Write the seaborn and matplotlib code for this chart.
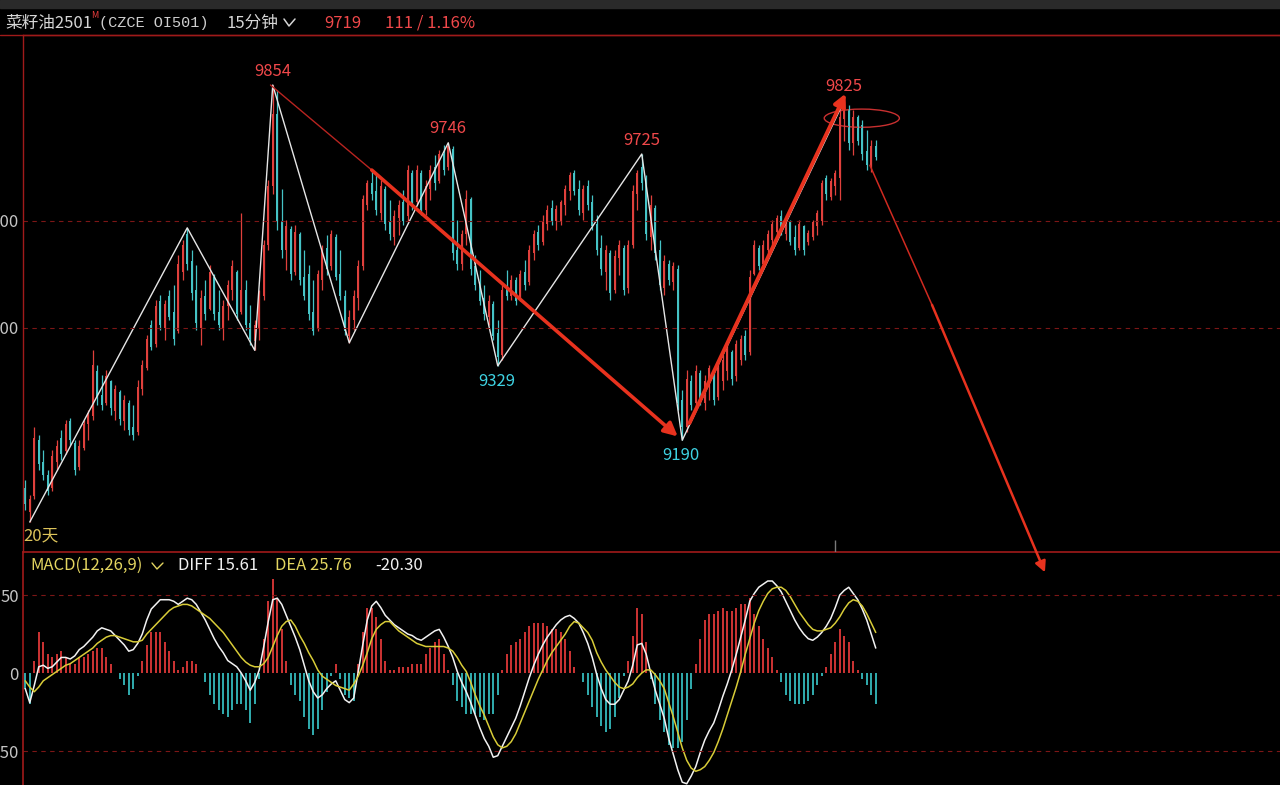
import numpy as np
import pandas as pd
import matplotlib
matplotlib.use("Agg")
import matplotlib.pyplot as plt
from matplotlib.patches import Ellipse, Rectangle
from matplotlib.lines import Line2D
import seaborn as sns

# OI501 15-minute bars
opens = [
    9100, 9055, 9085, 9190, 9150, 9125, 9100, 9150, 9195, 9170,
    9225, 9185, 9140, 9175, 9220, 9235, 9320, 9275, 9260, 9300,
    9245, 9280, 9225, 9260, 9215, 9205, 9285, 9325, 9405, 9370,
    9450, 9400, 9460, 9430, 9395, 9505, 9575, 9525, 9470, 9400,
    9460, 9435, 9495, 9430, 9400, 9440, 9470, 9505, 9430, 9470,
    9410, 9375, 9400, 9460, 9555, 9665, 9800, 9600, 9545, 9585,
    9505, 9575, 9495, 9500, 9430, 9400, 9490, 9550, 9515, 9570,
    9500, 9460, 9385, 9415, 9455, 9515, 9630, 9670, 9655, 9615,
    9660, 9600, 9570, 9605, 9635, 9610, 9690, 9635, 9690, 9620,
    9660, 9700, 9675, 9725, 9700, 9735, 9545, 9520, 9575, 9640,
    9515, 9485, 9455, 9420, 9445, 9390, 9350, 9475, 9460, 9490,
    9455, 9505, 9485, 9540, 9580, 9560, 9595, 9625, 9600, 9600,
    9630, 9655, 9690, 9660, 9615, 9665, 9635, 9595, 9550, 9505,
    9540, 9470, 9530, 9550, 9475, 9555, 9650, 9700, 9675, 9570,
    9625, 9545, 9475, 9520, 9485, 9510, 9265, 9215, 9300, 9260,
    9315, 9260, 9295, 9320, 9270, 9300, 9320, 9355, 9310, 9340,
    9385, 9355, 9500, 9550, 9520, 9545, 9565, 9580, 9610, 9575,
    9600, 9570, 9550, 9590, 9560, 9570, 9590, 9600, 9680, 9645,
    9665, 9680, 9790, 9810, 9745, 9795, 9780, 9730, 9700, 9740,
]
highs = [
    9115, 9087, 9214, 9200, 9171, 9134, 9171, 9190, 9209, 9228,
    9232, 9190, 9190, 9228, 9246, 9358, 9330, 9312, 9321, 9302,
    9293, 9284, 9274, 9265, 9256, 9302, 9340, 9387, 9415, 9452,
    9461, 9452, 9471, 9480, 9536, 9564, 9587, 9545, 9517, 9471,
    9489, 9517, 9500, 9471, 9452, 9489, 9527, 9508, 9615, 9489,
    9443, 9415, 9471, 9564, 9676, 9854, 9845, 9660, 9602, 9590,
    9592, 9580, 9545, 9517, 9489, 9508, 9555, 9573, 9583, 9575,
    9545, 9471, 9433, 9471, 9527, 9648, 9676, 9695, 9686, 9676,
    9665, 9639, 9620, 9639, 9658, 9704, 9695, 9704, 9695, 9676,
    9704, 9723, 9732, 9742, 9746, 9740, 9602, 9583, 9658, 9645,
    9536, 9508, 9480, 9461, 9450, 9415, 9480, 9508, 9499, 9495,
    9508, 9527, 9555, 9583, 9592, 9611, 9630, 9639, 9630, 9639,
    9667, 9691, 9695, 9676, 9667, 9676, 9648, 9611, 9573, 9555,
    9545, 9545, 9564, 9555, 9564, 9667, 9695, 9725, 9686, 9648,
    9630, 9564, 9536, 9527, 9523, 9517, 9284, 9321, 9312, 9330,
    9321, 9312, 9330, 9321, 9340, 9349, 9368, 9358, 9377, 9387,
    9396, 9508, 9564, 9555, 9564, 9583, 9602, 9611, 9620, 9611,
    9602, 9592, 9602, 9592, 9583, 9602, 9620, 9676, 9686, 9680,
    9695, 9807, 9825, 9817, 9807, 9798, 9789, 9770, 9751, 9751,
]
lows = [
    9059, 9037, 9080, 9134, 9115, 9087, 9095, 9134, 9153, 9165,
    9181, 9125, 9134, 9171, 9190, 9228, 9256, 9246, 9256, 9237,
    9228, 9218, 9209, 9200, 9190, 9200, 9274, 9321, 9358, 9365,
    9396, 9377, 9415, 9368, 9390, 9489, 9508, 9452, 9396, 9368,
    9415, 9433, 9415, 9396, 9377, 9415, 9452, 9415, 9425, 9396,
    9368, 9358, 9377, 9452, 9545, 9650, 9583, 9530, 9508, 9489,
    9499, 9480, 9452, 9415, 9387, 9395, 9471, 9499, 9508, 9489,
    9452, 9387, 9372, 9396, 9433, 9508, 9620, 9639, 9611, 9602,
    9583, 9564, 9555, 9573, 9592, 9600, 9620, 9630, 9611, 9611,
    9639, 9658, 9670, 9686, 9695, 9527, 9508, 9508, 9555, 9499,
    9471, 9443, 9415, 9405, 9377, 9329, 9340, 9452, 9452, 9443,
    9450, 9471, 9480, 9527, 9545, 9555, 9583, 9592, 9583, 9592,
    9611, 9639, 9648, 9611, 9602, 9620, 9583, 9536, 9499, 9471,
    9452, 9465, 9499, 9461, 9465, 9550, 9620, 9658, 9564, 9545,
    9527, 9471, 9461, 9480, 9471, 9246, 9190, 9205, 9246, 9250,
    9256, 9246, 9265, 9256, 9265, 9284, 9302, 9293, 9300, 9330,
    9340, 9350, 9499, 9508, 9515, 9536, 9555, 9564, 9573, 9564,
    9555, 9536, 9545, 9536, 9555, 9564, 9573, 9592, 9639, 9639,
    9648, 9639, 9750, 9732, 9723, 9742, 9714, 9695, 9691, 9714,
]
closes = [
    9070, 9080, 9195, 9145, 9125, 9095, 9160, 9180, 9165, 9220,
    9190, 9135, 9180, 9220, 9240, 9330, 9270, 9255, 9310, 9250,
    9285, 9230, 9265, 9210, 9200, 9290, 9330, 9380, 9365, 9440,
    9405, 9445, 9420, 9380, 9520, 9555, 9520, 9465, 9410, 9455,
    9425, 9505, 9425, 9405, 9440, 9480, 9515, 9425, 9470, 9405,
    9380, 9405, 9460, 9555, 9665, 9800, 9600, 9545, 9590, 9500,
    9580, 9490, 9460, 9425, 9395, 9500, 9545, 9510, 9575, 9495,
    9460, 9395, 9420, 9460, 9515, 9640, 9670, 9650, 9620, 9665,
    9595, 9575, 9610, 9630, 9600, 9695, 9630, 9695, 9620, 9665,
    9695, 9670, 9725, 9695, 9740, 9540, 9520, 9575, 9640, 9510,
    9480, 9450, 9425, 9450, 9385, 9345, 9470, 9460, 9490, 9450,
    9500, 9480, 9545, 9575, 9555, 9600, 9620, 9600, 9622, 9635,
    9660, 9685, 9655, 9620, 9660, 9630, 9590, 9545, 9510, 9545,
    9465, 9535, 9555, 9470, 9555, 9655, 9690, 9670, 9575, 9630,
    9540, 9480, 9525, 9490, 9515, 9260, 9215, 9305, 9255, 9320,
    9265, 9300, 9325, 9265, 9330, 9340, 9360, 9305, 9370, 9380,
    9350, 9495, 9555, 9515, 9555, 9575, 9595, 9605, 9580, 9605,
    9560, 9545, 9595, 9545, 9578, 9598, 9615, 9670, 9650, 9675,
    9690, 9795, 9810, 9745, 9795, 9750, 9725, 9705, 9740, 9719,
]

# MACD(12,26,9) lines as drawn in the lower panel
diff_vals = [
    -10, -19, -8, 4, 5, 3, 4, 7, 10, 10,
    9, 11, 15, 17, 20, 23, 27, 29, 28, 27,
    24, 21, 18, 14, 15, 19, 25, 34, 41, 44,
    47, 47, 47, 46, 44, 46, 48, 47, 44, 39,
    34, 28, 22, 17, 13, 8, 6, 4, 0, -5,
    -11, -6, 2, 17, 33, 47, 48, 44, 37, 30,
    23, 15, 5, -5, -12, -16, -14, -10, -7, -5,
    -11, -17, -19, -16, 1, 18, 34, 43, 46, 42,
    37, 34, 31, 29, 27, 25, 24, 22, 21, 23,
    25, 27, 28, 23, 17, 10, 1, -6, -12, -19,
    -27, -35, -42, -47, -54, -53, -47, -41, -35, -29,
    -21, -12, -3, 5, 12, 18, 23, 27, 31, 34,
    36, 37, 35, 32, 26, 19, 10, -1, -10, -17,
    -20, -20, -17, -11, -5, 5, 18, 19, 12, 0,
    -11, -20, -29, -42, -52, -62, -70, -71, -66, -60,
    -51, -43, -37, -32, -24, -15, -7, 2, 12, 23,
    34, 46, 51, 55, 57, 59, 59, 56, 52, 46,
    40, 34, 29, 25, 22, 21, 23, 26, 30, 35,
    42, 50, 53, 55, 51, 47, 41, 34, 25, 16,
]
dea_vals = [
    -5, -9, -12, -9, -5, -3, -1, 1, 3, 5,
    6, 8, 10, 12, 14, 16, 19, 21, 23, 24,
    24, 23, 22, 21, 20, 20, 21, 25, 28, 31,
    34, 37, 40, 42, 43, 44, 44, 43, 41, 39,
    37, 35, 32, 29, 26, 22, 18, 14, 10, 7,
    5, 4, 4, 6, 10, 17, 24, 30, 33, 34,
    30, 24, 19, 13, 8, 2, -2, -4, -6, -8,
    -9, -10, -11, -7, -2, 5, 13, 22, 28, 31,
    33, 33, 30, 27, 25, 23, 21, 19, 18, 17,
    17, 17, 17, 17, 16, 14, 10, 5, 1, -6,
    -14, -21, -27, -34, -41, -46, -48, -47, -44, -39,
    -32, -25, -18, -11, -4, 2, 8, 13, 17, 21,
    25, 30, 33, 32, 29, 26, 21, 13, 7, 2,
    -2, -6, -9, -10, -9, -7, -3, 0, 2, 2,
    -1, -5, -10, -19, -28, -38, -48, -56, -61, -63,
    -62, -60, -56, -51, -44, -36, -27, -18, -9, 1,
    12, 22, 32, 40, 46, 51, 54, 55, 55, 53,
    49, 44, 39, 35, 31, 28, 27, 27, 28, 29,
    32, 36, 41, 45, 47, 46, 43, 38, 32, 26,
]

# swing points of the white zigzag (bar index), alternating low / high
zigzag_bars = [1, 36, 51, 55, 72, 94, 105, 137, 146, 182]
peak_bars = [55, 94, 137, 182]
trough_bars = [105, 146]

price_ticks = [9400, 9600]
macd_ticks = [-50, 0, 50]

RED = "#e0403c"
TEAL = "#45c3c6"
LABEL_RED = "#f0484a"
LABEL_CYAN = "#3ed2e2"
YELLOW = "#e2d460"
BORDER = "#a01a1a"
GRID = "#7c1616"
ARROW = "#e8321e"

W, H = 1280, 785


def fx(px):
    return px / W


def fy(py):
    return 1 - py / H


def main():
    df = pd.DataFrame({"o": opens, "h": highs, "l": lows, "c": closes,
                       "diff": diff_vals, "dea": dea_vals})
    df["i"] = np.arange(len(df))
    df["macd"] = 2 * (df["diff"] - df["dea"])

    sns.set_style("dark", {"axes.facecolor": "black", "figure.facecolor": "black"})
    plt.rcParams["font.family"] = ["Noto Sans CJK SC", "DejaVu Sans"]

    fig = plt.figure(figsize=(12.8, 7.85), dpi=100)
    fig.patch.set_facecolor("black")
    axm = fig.add_axes([fx(23), 0, 1 - fx(23), fy(552)])
    ax = fig.add_axes([fx(23), fy(552), 1 - fx(23), fy(35) - fy(552)])
    ax.set_zorder(3)
    ax.patch.set_alpha(0)
    axm.set_facecolor("black")

    xlim = (-0.5, -0.5 + (W - 23) / 4.5)

    # --- price panel ---
    up = df["c"] >= df["o"]
    colors = np.where(up, RED, TEAL)
    ax.vlines(df["i"], df["l"], df["h"], colors=colors, lw=0.9)
    body = (df["c"] - df["o"]).abs().clip(lower=2)
    ax.bar(df["i"], body, bottom=np.minimum(df["o"], df["c"]), width=0.5,
           color=colors, linewidth=0)

    zz = df.loc[zigzag_bars]
    zz_price = [r.l if k % 2 == 0 else r.h for k, r in enumerate(zz.itertuples())]
    ax.plot(zigzag_bars, zz_price, color="#e6e6e6", lw=1.0)

    for b in peak_bars:
        ax.annotate(f"{highs[b]}", (b, highs[b]), xytext=(0, 10), textcoords="offset points",
                    ha="center", va="center", color=LABEL_RED, fontsize=12)
    for b in trough_bars:
        ax.annotate(f"{lows[b]}", (b, lows[b]), xytext=(-1, -11), textcoords="offset points",
                    ha="center", va="center", color=LABEL_CYAN, fontsize=12)

    # hand-drawn trend lines
    ax.plot([54.5, 77.0], [9854, 9695], color="#b82420", lw=1.0)
    ax.annotate("", xy=(145.0, 9197), xytext=(77.0, 9695), annotation_clip=False,
                arrowprops=dict(arrowstyle="-|>", color=ARROW, lw=2.6, mutation_scale=20,
                                shrinkA=0, shrinkB=0))
    ax.annotate("", xy=(182.3, 9838), xytext=(147.6, 9222), annotation_clip=False,
                arrowprops=dict(arrowstyle="-|>", color=ARROW, lw=2.8, mutation_scale=18,
                                shrinkA=0, shrinkB=0))
    ax.plot([187.7, 201.5], [9704, 9443], color="#d02a20", lw=1.1)
    ax.annotate("", xy=(226.6, 8943), xytext=(201.5, 9443), annotation_clip=False,
                arrowprops=dict(arrowstyle="-|>", color=ARROW, lw=1.8, mutation_scale=16,
                                shrinkA=0, shrinkB=0))
    ax.add_patch(Ellipse((185.9, 9792), width=16.7, height=34, fill=False,
                         ec="#c83030", lw=1.0))

    ylim = (8981, 9947.5)
    ax.vlines(180, ylim[0], ylim[0] + 22, color="#7a7a7a", lw=1)
    ax.set_xlim(xlim)
    ax.set_ylim(ylim)
    for t in price_ticks:
        ax.axhline(t, color=GRID, lw=0.8, ls=(0, (4, 4)))
    ax.set_yticks(price_ticks)
    ax.set_yticklabels([str(t) for t in price_ticks])
    ax.set_xticks([])
    ax.tick_params(axis="y", length=0, pad=3, labelcolor="#c4c4c4", labelsize=12)
    ax.grid(False)
    for side in ["right", "bottom"]:
        ax.spines[side].set_visible(False)
    for side in ["left", "top"]:
        ax.spines[side].set_color(BORDER)
        ax.spines[side].set_linewidth(1.0)
    ax.set_xlabel("")
    ax.set_ylabel("")
    ax.text(-0.5, 8995, "20天", color="#dcc35a", fontsize=12, va="bottom", ha="left")

    # --- MACD panel ---
    hist_colors = np.where(df["macd"] >= 0, "#c83232", "#2fa8aa")
    axm.bar(df["i"], df["macd"], width=0.42, color=hist_colors, linewidth=0)
    sns.lineplot(data=df, x="i", y="diff", ax=axm, color="#f2f2f2", lw=1.1)
    sns.lineplot(data=df, x="i", y="dea", ax=axm, color="#d8cc38", lw=1.1)
    axm.set_xlim(xlim)
    axm.set_ylim(-71.8, 77.6)
    for t in [-50, 50]:
        axm.axhline(t, color=GRID, lw=0.8, ls=(0, (4, 4)))
    axm.set_yticks(macd_ticks)
    axm.set_yticklabels([str(t) for t in macd_ticks])
    axm.set_xticks([])
    axm.tick_params(axis="y", length=0, pad=3, labelcolor="#c4c4c4", labelsize=12)
    axm.grid(False)
    axm.set_xlabel("")
    axm.set_ylabel("")
    for side in ["right", "bottom"]:
        axm.spines[side].set_visible(False)
    for side in ["left", "top"]:
        axm.spines[side].set_color(BORDER)
        axm.spines[side].set_linewidth(1.2)

    # --- header ---
    fig.add_artist(Rectangle((0, fy(8)), 1, 1 - fy(8), transform=fig.transFigure,
                             color="#2a2a2a", zorder=0))
    fig.add_artist(Line2D([0, 1], [fy(35), fy(35)], color=BORDER, lw=1.0))
    yh = fy(23)
    fig.text(fx(5), yh, "菜籽油2501", color="#d6d6d6", fontsize=12, va="center")
    fig.text(fx(91), fy(16), "M", color="#e83c3c", fontsize=6.5, va="center")
    fig.text(fx(99), yh, "(CZCE OI501)", color="#cfcfcf", fontsize=11,
             family="Liberation Mono", va="center")
    fig.text(fx(227), yh, "15分钟", color="#d6d6d6", fontsize=12, va="center")
    fig.add_artist(Line2D([fx(284), fx(289), fx(295)], [fy(19), fy(26), fy(19)],
                          color="#d6d6d6", lw=1.1))
    fig.text(fx(324), yh, "9719", color=LABEL_RED, fontsize=12, va="center")
    fig.text(fx(385), yh, "111 / 1.16%", color=LABEL_RED, fontsize=12, va="center")

    ym = fy(565)
    fig.text(fx(30), ym, "MACD(12,26,9)", color=YELLOW, fontsize=12, va="center")
    fig.add_artist(Line2D([fx(152), fx(157), fx(163)], [fy(563), fy(569), fy(563)],
                          color=YELLOW, lw=1.0))
    fig.text(fx(178), ym, "DIFF 15.61", color="#f0f0f0", fontsize=12, va="center")
    fig.text(fx(275), ym, "DEA 25.76", color=YELLOW, fontsize=12, va="center")
    fig.text(fx(375), ym, "-20.30", color="#f0f0f0", fontsize=12, va="center")

    fig.savefig("out.png", dpi=100, facecolor="black")


if __name__ == "__main__":
    main()
